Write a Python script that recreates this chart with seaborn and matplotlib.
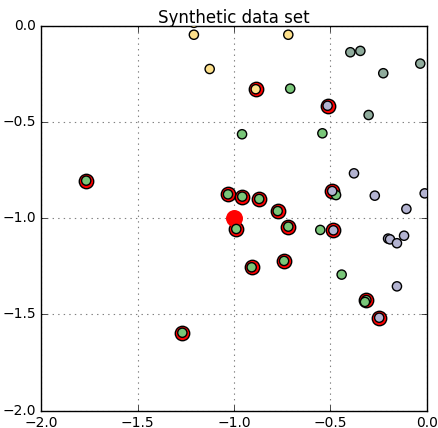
import matplotlib
matplotlib.use("Agg")
import matplotlib.pyplot as plt
import seaborn as sns
import pandas as pd

# ---- data ----
x_vals = [-1.208, -1.208, -1.126, -0.718, -0.887,
          -1.767, -0.708, -0.958, -0.541, -1.031, -0.957, -0.869, -0.470, -0.773,
          -0.988, -0.718, -0.552, -0.908, -0.740, -0.441, -0.313, -0.320, -1.268,
          -0.396, -0.344, -0.033, -0.225, -0.301,
          -0.514, -0.377, -0.490, -0.269, -0.010, -0.105, -0.484, -0.200, -0.190,
          -0.154, -0.117, -0.154, -0.246]
y_vals = [0.015, -0.047, -0.225, -0.047, -0.330,
          -0.805, -0.327, -0.564, -0.559, -0.876, -0.888, -0.900, -0.880, -0.963,
          -1.056, -1.044, -1.061, -1.255, -1.222, -1.293, -1.425, -1.435, -1.595,
          -0.138, -0.131, -0.197, -0.247, -0.464,
          -0.416, -0.767, -0.859, -0.883, -0.871, -0.952, -1.063, -1.106, -1.110,
          -1.130, -1.091, -1.354, -1.517]
classes = (["A"] * 5 + ["B"] * 18 + ["C"] * 5 + ["D"] * 13)
highlighted = [0, 0, 0, 0, 1,
               1, 0, 0, 0, 1, 1, 1, 0, 1,
               1, 1, 0, 1, 1, 0, 1, 0, 1,
               0, 0, 0, 0, 0,
               1, 0, 1, 0, 0, 0, 1, 0, 0,
               0, 0, 0, 1]
query_x = [-1.0]
query_y = [-1.0]
class_colors = {"A": "#fde08b", "B": "#79c679", "C": "#8fab9c", "D": "#b3b3d1"}
title = "Synthetic data set"

df = pd.DataFrame({"x": x_vals, "y": y_vals, "cls": classes, "hl": highlighted})

plt.style.use("classic")
plt.rcParams["font.family"] = ["DejaVu Sans"]
plt.rcParams["figure.facecolor"] = "white"

fig = plt.figure(figsize=(4.38, 4.28), dpi=100)
ax = fig.add_axes([0.0943, 0.0404, 0.8797, 0.8996])

# red rings for highlighted points
sns.scatterplot(data=df[df.hl == 1], x="x", y="y", color="red", s=108,
                edgecolor="black", linewidth=1.0, ax=ax, zorder=2, legend=False)
# query point
sns.scatterplot(x=query_x, y=query_y, color="red", s=125, edgecolor="red",
                linewidth=1.0, ax=ax, zorder=2, legend=False)
# all points
sns.scatterplot(data=df, x="x", y="y", hue="cls", palette=class_colors, s=44,
                edgecolor="black", linewidth=1.0, ax=ax, zorder=3, legend=False)

ax.set_xlim(-2.0, 0.0)
ax.set_ylim(-2.0, 0.0)
ax.set_xticks([-2.0, -1.5, -1.0, -0.5, 0.0])
ax.set_yticks([-2.0, -1.5, -1.0, -0.5, 0.0])
ax.set_xlabel("")
ax.set_ylabel("")
ax.grid(True, linestyle=":", color="gray", linewidth=0.8)
ax.set_axisbelow(True)
ax.tick_params(labelsize=10)
ax.set_title(title, fontsize=12, pad=2)

fig.savefig("out.png", dpi=100, facecolor="white")
